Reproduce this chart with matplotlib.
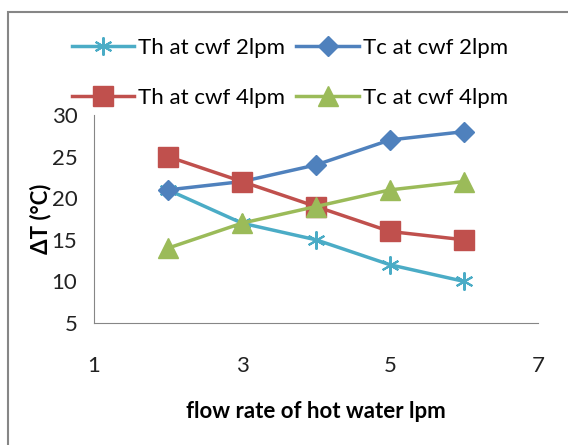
import matplotlib.pyplot as plt
from matplotlib.patches import Rectangle

flow = [2, 3, 4, 5, 6]
th_2lpm = [21, 17, 15, 12, 10]
tc_2lpm = [21, 22, 24, 27, 28]
th_4lpm = [25, 22, 19, 16, 15]
tc_4lpm = [14, 17, 19, 21, 22]

plt.rcParams['font.family'] = ['Lato', 'DejaVu Sans']

fig = plt.figure(figsize=(5.68, 4.45), dpi=100)
ax = fig.add_axes([94/568, 1 - 323/445, (538 - 94)/568, (323 - 115)/445])

# outer chart border
fig.patches.append(Rectangle((8/568, -0.1), 1.2, 1 - 12/445 + 0.1, transform=fig.transFigure,
                             fill=False, edgecolor='#868686', lw=1.5))

l1, = ax.plot(flow, th_2lpm, color='#4BACC6', lw=2.5, marker=(6, 2, 0), ms=13, mew=1.5,
              label='Th at cwf 2lpm')
l2, = ax.plot(flow, tc_2lpm, color='#4F81BD', lw=2.5, marker='D', ms=10, label='Tc at cwf 2lpm')
l3, = ax.plot(flow, th_4lpm, color='#C0504D', lw=2.5, marker='s', ms=14, label='Th at cwf 4lpm')
l4, = ax.plot(flow, tc_4lpm, color='#9BBB59', lw=2.5, marker='^', ms=14, label='Tc at cwf 4lpm')

ax.set_xlim(1, 7)
ax.set_ylim(5, 30)
ax.set_xticks([1, 3, 5, 7])
ax.set_yticks([5, 10, 15, 20, 25, 30])
ax.tick_params(length=0, labelsize=16, colors='#222222')
ax.tick_params(axis='y', pad=12)
ax.tick_params(axis='x', pad=24)
for s in ['top', 'right']:
    ax.spines[s].set_visible(False)
for s in ['left', 'bottom']:
    ax.spines[s].set_color('#868686')

ax.set_ylabel('ΔT (°C)', fontsize=16, fontweight='bold', labelpad=0)
ax.set_xlabel('flow rate of hot water lpm', fontsize=16, fontweight='bold', labelpad=18)

# row-major order: matplotlib fills legend columns first
fig.legend([l1, l3, l2, l4], [l.get_label() for l in [l1, l3, l2, l4]],
           loc='center', bbox_to_anchor=(290/568, 1 - 73/445), ncol=2, frameon=False,
           fontsize=16, handlelength=2.8, handletextpad=0.2, columnspacing=0.5, labelspacing=1.35)

plt.savefig('out.png', dpi=100)
